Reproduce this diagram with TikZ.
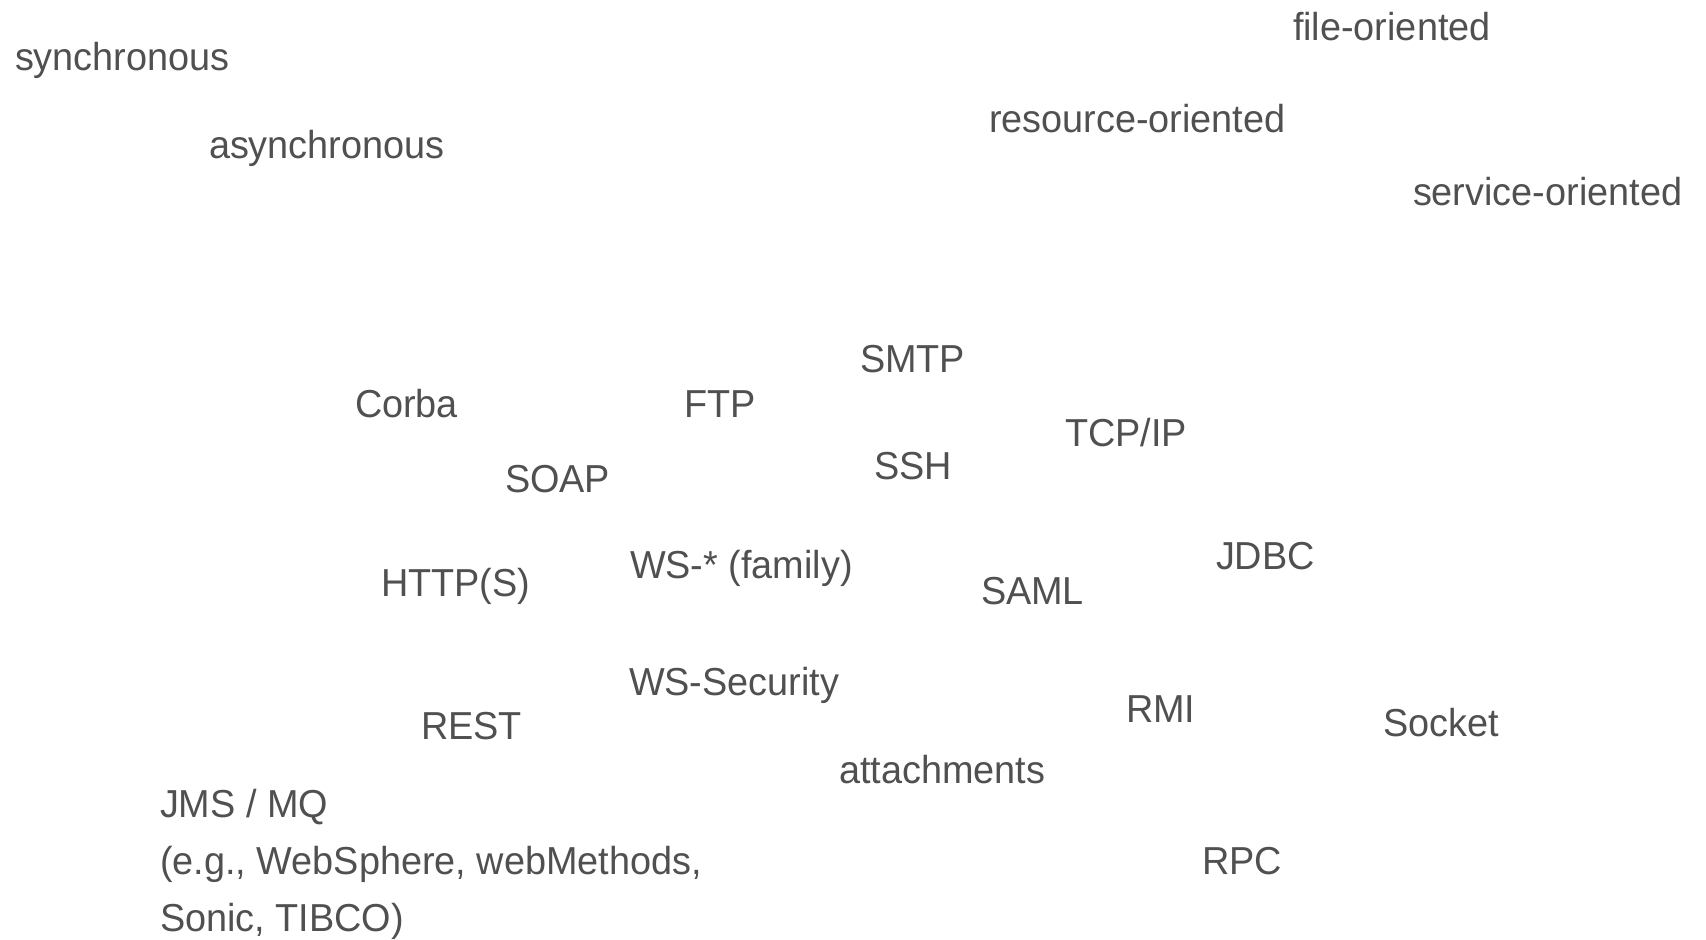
\documentclass[tikz,border=0pt]{standalone}
\usepackage{fontspec}
\setmainfont[FakeStretch=0.97]{Liberation Sans}
\definecolor{txtgray}{RGB}{80,80,80}
\begin{document}
\begin{tikzpicture}[x=0.5pt,y=-0.5pt,
  lbl/.style={anchor=base west,inner sep=0pt,outer sep=0pt,text=txtgray,font=\fontsize{19.5}{28.3}\selectfont,align=left}]
\useasboundingbox (0,0) rectangle (1706,940);
\node[lbl] (sync) at (15,71) {synchronous};
\node[lbl] (async) at (209,159) {asynchronous};
\node[lbl] (file) at (1293,41) {file-oriented};
\node[lbl] (res) at (989,133) {resource-oriented};
\node[lbl] (serv) at (1413,206) {service-oriented};
\node[lbl] (smtp) at (860,373) {SMTP};
\node[lbl] (corba) at (355,418) {Corba};
\node[lbl] (ftp) at (684,418) {FTP};
\node[lbl] (tcp) at (1065,447) {TCP/IP};
\node[lbl] (ssh) at (874,480) {SSH};
\node[lbl] (soap) at (505,493) {SOAP};
\node[lbl] (jdbc) at (1216,569) {JDBC};
\node[lbl] (ws) at (630,578) {WS-* (family)};
\node[lbl] (http) at (381,596) {HTTP(S)};
\node[lbl] (saml) at (981,604) {SAML};
\node[lbl] (wssec) at (629,695) {WS-Security};
\node[lbl] (rmi) at (1126,722) {RMI};
\node[lbl] (socket) at (1383,736) {Socket};
\node[lbl] (rest) at (421,739) {REST};
\node[lbl] (att) at (839,783) {attachments};
\node[lbl] (jms) at (160,931) {JMS / MQ\\(e.g., WebSphere, webMethods,\\Sonic, TIBCO)};
\node[lbl] (rpc) at (1202,874) {RPC};
\end{tikzpicture}
\end{document}
